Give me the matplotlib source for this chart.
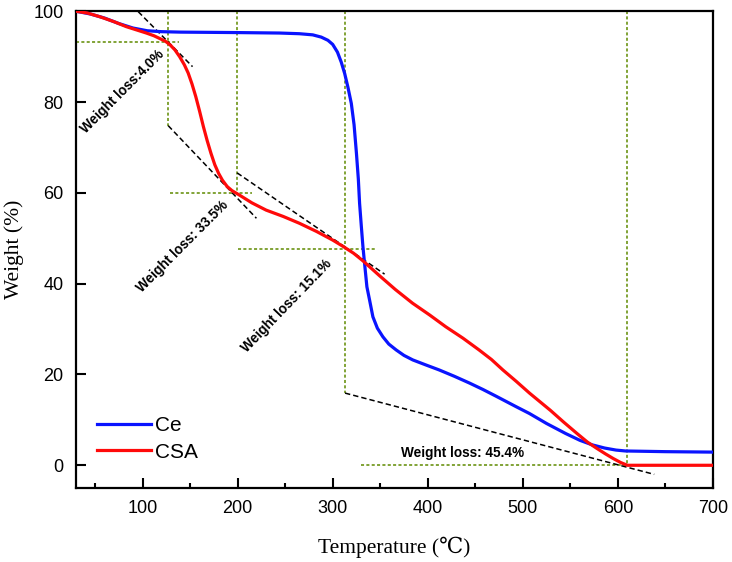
import matplotlib
matplotlib.use("Agg")
import matplotlib.pyplot as plt
from matplotlib.ticker import MultipleLocator

# TGA curves (temperature in degC, weight in %)
ce_temp = [30, 45, 60, 75, 90, 105, 120, 140, 200, 244, 265, 279, 288, 295,
           300, 305, 309, 312.6, 316, 319.6, 322.5, 325, 327, 328.3, 330,
           331.8, 334, 336, 338.8, 342.3, 347, 352.8, 359, 366.8, 375, 384.3,
           398, 412, 428, 444, 458, 472, 493, 507, 525, 545, 560, 573, 586,
           598, 608, 650, 700]
ce_weight = [100, 99.4, 98.5, 97.3, 96.3, 95.7, 95.5, 95.4, 95.3, 95.2, 95.05,
             94.8, 94.3, 93.6, 92.7, 91.0, 88.8, 86.3, 83.3, 79.7, 75.0, 68.7,
             63.0, 57.7, 53.0, 48.2, 43.5, 39.3, 36.4, 32.7, 30.2, 28.3, 26.7,
             25.4, 24.2, 23.2, 22.1, 21.0, 19.6, 18.1, 16.7, 15.2, 12.9, 11.4,
             9.2, 7.0, 5.5, 4.5, 3.8, 3.35, 3.15, 3.0, 2.9]

csa_temp = [30, 42, 55, 70, 83, 95, 104, 112, 118, 124, 129, 134, 139, 144,
            148, 152, 156, 160, 164, 168, 172, 176, 180, 184, 189, 194,
            202, 215, 230, 248, 265, 283, 300, 311, 322, 332, 349, 366, 384,
            402, 419, 437, 454, 467, 479, 493, 507, 518, 529, 543, 557, 568,
            578, 587, 595, 603, 610, 650, 700]
csa_weight = [100, 99.6, 98.8, 97.7, 96.6, 95.8, 95.2, 94.6, 94.0, 93.4, 92.6,
              91.5, 90.0, 88.2, 86.4, 84.0, 81.2, 78.0, 74.6, 71.5, 68.7, 66.2,
              64.3, 62.8, 61.4, 60.5, 59.5, 57.8, 56.2, 54.8, 53.3, 51.5,
              49.6, 48.2, 46.7, 45.0, 41.8, 38.7, 35.7, 33.1, 30.5, 28.0, 25.4,
              23.3, 21.0, 18.5, 15.9, 14.0, 12.1, 9.5, 7.0, 5.1, 3.7, 2.5, 1.5,
              0.6, 0.0, 0.0, 0.0]

# green guide lines: ((x0, x1), (y0, y1))
guides = [
    ((127, 127), (100, 74.8)),
    ((30, 138), (93.3, 93.3)),
    ((199.5, 199.5), (100, 59.9)),
    ((128.7, 215), (59.9, 59.9)),
    ((313, 313), (100, 15.9)),
    ((200.5, 345), (47.6, 47.6)),
    ((610, 610), (100, 0)),
    ((330, 650), (0, 0)),
]

# black dashed tangents
tangents = [
    ((95.5, 152.6), (99.9, 87.8)),
    ((127, 219.8), (74.8, 54.4)),
    ((199.5, 354.6), (64.4, 42.1)),
    ((313, 638.2), (15.9, -2.0)),
]

loss_labels = ["Weight loss:4.0%", "Weight loss: 33.5%",
               "Weight loss: 15.1%", "Weight loss: 45.4%"]
loss_pos = [(78.8, 82.4), (141.9, 48.2), (251.3, 35.1), (437, 2.6)]
loss_rot = [45, 45, 46, 0]

fig = plt.figure(figsize=(7.32, 5.62), dpi=100)
ax = fig.add_axes([0.1038, 0.1317, 0.8702, 0.8483])

green = "#5f8a00"
for gx, gy in guides:
    ax.plot(gx, gy, color=green, lw=1.1, ls=(0, (2, 1.5)), zorder=1)
for tx, ty in tangents:
    ax.plot(tx, ty, color="black", lw=1.1, ls=(0, (3.5, 2)), zorder=1)

ax.plot(ce_temp, ce_weight, color="#0a14ff", lw=2.3, label="Ce", zorder=3,
        solid_joinstyle="round")
ax.plot(csa_temp, csa_weight, color="#ff0a0a", lw=2.3, label="CSA", zorder=3,
        solid_joinstyle="round")

for txt, (px, py), rot in zip(loss_labels, loss_pos, loss_rot):
    ax.text(px, py, txt, rotation=rot, rotation_mode="anchor", ha="center",
            va="center", fontsize=9.8, fontweight="bold",
            family="Liberation Sans", zorder=4)

ax.set_xlim(30, 700)
ax.set_ylim(-5, 100)
ax.xaxis.set_major_locator(MultipleLocator(100))
ax.xaxis.set_minor_locator(MultipleLocator(50))
ax.yaxis.set_major_locator(MultipleLocator(20))
ax.tick_params(which="both", direction="in", width=1.5)
ax.tick_params(which="major", length=7, labelsize=13, pad=9)
ax.tick_params(which="minor", length=3.5)
for lab in ax.get_xticklabels() + ax.get_yticklabels():
    lab.set_family("Liberation Sans")
for sp in ax.spines.values():
    sp.set_linewidth(1.6)

ax.set_xlabel("Temperature (\u2103)", family=["Liberation Serif", "DejaVu Serif"],
              fontsize=15.5, labelpad=14)
ax.set_ylabel("Weight (%)", family=["Liberation Serif", "DejaVu Serif"],
              fontsize=15.5, labelpad=7)

ax.legend(loc="lower left", bbox_to_anchor=(0.0334, 0.055), frameon=False,
          borderpad=0, borderaxespad=0, handlelength=2.56, handletextpad=0.2,
          labelspacing=0.35, prop={"family": "Liberation Sans", "size": 15})

fig.savefig("out.png", dpi=100)
